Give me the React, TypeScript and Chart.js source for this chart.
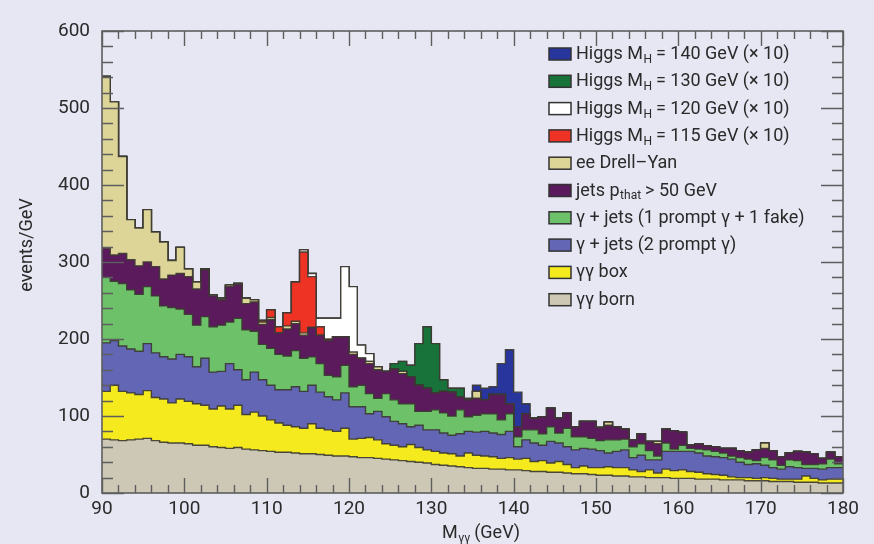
import React, { useEffect, useRef } from "react";
import { Chart, registerables } from "chart.js";

Chart.register(...registerables);

// ---------------- axes / binning ----------------
const X_MIN = 90;
const X_MAX = 180;
const BIN_WIDTH = 1;
const Y_MIN = 0;
const Y_MAX = 600;
const X_MAJOR = 10;
const X_MINOR = 2;
const Y_MAJOR = 100;
const Y_MINOR = 20;

// ---------------- series: events/GeV in 1 GeV bins starting at 90 GeV ----------------
const ggBorn = [
  70, 69, 68, 69, 70, 71, 68, 66, 65, 65,
  64, 62, 62, 60, 59, 58, 59, 57, 56, 55,
  54, 53, 53, 52, 51, 51, 50, 49, 48, 48,
  47, 46, 46, 45, 44, 43, 42, 41, 40, 39,
  37, 36, 35, 34, 33, 32, 32, 31, 31, 30,
  30, 29, 28, 28, 27, 27, 26, 25, 25, 24,
  23, 23, 22, 22, 21, 21, 20, 20, 20, 19,
  19, 19, 18, 18, 18, 17, 17, 17, 16, 16,
  16, 15, 15, 15, 14, 14, 14, 13, 13, 13,
];
const ggBox = [
  62, 71, 64, 61, 58, 62, 56, 56, 52, 57,
  55, 54, 52, 49, 54, 51, 55, 45, 49, 45,
  41, 38, 35, 34, 33, 39, 34, 33, 32, 36,
  23, 25, 26, 24, 20, 19, 18, 22, 19, 17,
  17, 16, 16, 14, 19, 17, 16, 16, 14, 16,
  14, 16, 13, 14, 12, 14, 11, 8, 10, 9,
  10, 11, 11, 11, 9, 7, 10, 6, 11, 10,
  11, 9, 9, 7, 6, 6, 4, 3, 4, 3,
  4, 4, 3, 3, 4, 8, 5, 4, 5, 5,
];
const gjTwoPrompt = [
  63, 58, 59, 57, 56, 61, 58, 55, 57, 58,
  58, 48, 61, 48, 45, 59, 46, 45, 52, 47,
  45, 43, 46, 52, 48, 50, 47, 43, 41, 46,
  42, 41, 31, 37, 35, 31, 30, 23, 29, 26,
  28, 26, 24, 29, 28, 30, 32, 31, 31, 34,
  16, 24, 24, 20, 28, 24, 23, 23, 23, 24,
  22, 18, 21, 23, 16, 21, 13, 17, 23, 25,
  24, 26, 25, 23, 23, 23, 23, 20, 17, 19,
  16, 14, 13, 16, 15, 10, 13, 14, 15, 15,
];
const gjOneFake = [
  85, 77, 81, 77, 74, 74, 74, 66, 67, 59,
  55, 54, 54, 59, 60, 54, 67, 65, 53, 46,
  48, 46, 44, 47, 43, 37, 37, 28, 30, 36,
  26, 28, 26, 17, 30, 28, 26, 30, 18, 24,
  26, 26, 25, 31, 19, 22, 23, 25, 19, 23,
  13, 13, 17, 15, 19, 13, 24, 17, 15, 14,
  13, 17, 15, 14, 14, 15, 12, 5, 11, 3,
  8, 4, 5, 8, 7, 6, 4, 6, 7, 4,
  10, 10, 5, 9, 9, 5, 5, 7, 11, 5,
];
const jetsPthat = [
  38, 34, 39, 39, 37, 32, 38, 35, 42, 46,
  49, 47, 61, 40, 33, 46, 44, 34, 38, 26,
  37, 28, 35, 35, 30, 38, 37, 45, 52, 37,
  42, 35, 39, 37, 29, 40, 39, 35, 34, 30,
  22, 28, 31, 17, 22, 22, 18, 25, 33, 13,
  13, 21, 15, 22, 24, 19, 20, 13, 20, 22,
  17, 19, 17, 13, 9, 13, 12, 16, 18, 24,
  17, 4, 7, 5, 6, 6, 10, 9, 9, 14,
  12, 12, 11, 9, 12, 16, 14, 7, 9, 9,
];
const drellYan = [
  223, 199, 126, 52, 49, 68, 45, 48, 19, 34,
  10, 9, 1, 1, 2, 2, 1, 7, 3, 3,
  3, 0, 4, 3, 3, 0, 0, 0, 0, 0,
  3, 0, 3, 4, 0, 0, 3, 0, 0, 0,
  0, 0, 0, 0, 0, 9, 0, 0, 0, 0,
  0, 0, 0, 0, 0, 0, 0, 0, 0, 0,
  0, 4, 0, 0, 0, 0, 0, 3, 0, 0,
  0, 0, 0, 0, 0, 0, 0, 0, 0, 0,
  7, 0, 0, 0, 0, 0, 0, 0, 0, 0,
];
// Higgs signals (x10), given from their first non-empty bin
const higgs115Start = 109;
const higgs115 = [2, 10, 8, 17, 51, 105, 66, 11, 2];
const higgs120Start = 114;
const higgs120 = [3, 4, 11, 27, 24, 91, 85, 17, 10];
const higgs130Start = 125;
const higgs130 = [7, 13, 15, 54, 80, 64, 15, 5, 11];
const higgs140Start = 134;
const higgs140 = [2, 8, 15, 10, 40, 70, 45, 13];

// ---------------- labels / colours ----------------
const seriesLabels = [
  "γγ born",
  "γγ box",
  "γ + jets (2 prompt γ)",
  "γ + jets (1 prompt γ + 1 fake)",
  "jets pthat > 50 GeV",
  "ee Drell–Yan",
  "Higgs MH = 115 GeV (× 10)",
  "Higgs MH = 120 GeV (× 10)",
  "Higgs MH = 130 GeV (× 10)",
  "Higgs MH = 140 GeV (× 10)",
];
const seriesColors = [
  "#cdc8b5",
  "#f5ea1d",
  "#6366b4",
  "#6dc168",
  "#5b1a5c",
  "#ddd598",
  "#ee3325",
  "#ffffff",
  "#17733a",
  "#27359c",
];
type Part = string | { sub: string };
// legend rows, top to bottom (index into series)
const legendRows: { series: number; parts: Part[] }[] = [
  { series: 9, parts: ["Higgs M", { sub: "H" }, " = 140 GeV (× 10)"] },
  { series: 8, parts: ["Higgs M", { sub: "H" }, " = 130 GeV (× 10)"] },
  { series: 7, parts: ["Higgs M", { sub: "H" }, " = 120 GeV (× 10)"] },
  { series: 6, parts: ["Higgs M", { sub: "H" }, " = 115 GeV (× 10)"] },
  { series: 5, parts: ["ee Drell–Yan"] },
  { series: 4, parts: ["jets p", { sub: "that" }, " > 50 GeV"] },
  { series: 3, parts: ["γ + jets (1 prompt γ + 1 fake)"] },
  { series: 2, parts: ["γ + jets (2 prompt γ)"] },
  { series: 1, parts: ["γγ box"] },
  { series: 0, parts: ["γγ born"] },
];
const xTitleParts: Part[] = ["M", { sub: "γγ" }, " (GeV)"];
const yTitle = "events/GeV";

const FONT = 'Roboto, "Liberation Sans", Arial, sans-serif';
const TEXT = "#2a2a2a";
const OUTLINE = "rgba(60,58,50,0.92)";
const AXIS = "#5e5e5e";
const BG = "#e6e7f3";

const N_BINS = (X_MAX - X_MIN) / BIN_WIDTH;

function padSignal(start: number, values: number[]): number[] {
  const out = new Array(N_BINS).fill(0);
  values.forEach((v, k) => {
    out[(start - X_MIN) / BIN_WIDTH + k] = v;
  });
  return out;
}

function toSteps(values: number[]) {
  const pts = values.map((v, i) => ({ x: X_MIN + i * BIN_WIDTH, y: v }));
  pts.push({ x: X_MAX, y: values[values.length - 1] });
  return pts;
}

function drawRich(ctx: CanvasRenderingContext2D, parts: Part[], x: number, y: number, size: number, center: boolean) {
  const subSize = Math.round(size * 0.68);
  const widths = parts.map((p) => {
    ctx.font = `${typeof p === "string" ? size : subSize}px ${FONT}`;
    return ctx.measureText(typeof p === "string" ? p : p.sub).width;
  });
  const total = widths.reduce((a, b) => a + b, 0);
  let cx = center ? x - total / 2 : x;
  ctx.textAlign = "left";
  ctx.textBaseline = "alphabetic";
  parts.forEach((p, i) => {
    if (typeof p === "string") {
      ctx.font = `${size}px ${FONT}`;
      ctx.fillText(p, cx, y);
    } else {
      ctx.font = `${subSize}px ${FONT}`;
      ctx.fillText(p.sub, cx + 0.5, y + size * 0.22);
    }
    cx += widths[i];
  });
}

const decorPlugin = {
  id: "decor",
  afterDatasetsDraw(chart: any) {
    const { ctx, chartArea: a, scales } = chart;
    const xs = scales.x;
    const ys = scales.y;
    ctx.save();
    // inward ticks on all four sides
    ctx.strokeStyle = AXIS;
    ctx.lineWidth = 1.4;
    ctx.beginPath();
    for (let v = X_MIN; v <= X_MAX; v += X_MINOR) {
      const px = Math.round(xs.getPixelForValue(v)) + 0.5;
      const len = v % X_MAJOR === 0 ? 15 : 8;
      ctx.moveTo(px, a.bottom);
      ctx.lineTo(px, a.bottom - len);
      ctx.moveTo(px, a.top);
      ctx.lineTo(px, a.top + len);
    }
    for (let v = Y_MIN; v <= Y_MAX; v += Y_MINOR) {
      const py = Math.round(ys.getPixelForValue(v)) + 0.5;
      const len = v % Y_MAJOR === 0 ? 22 : 11;
      ctx.moveTo(a.left, py);
      ctx.lineTo(a.left + len, py);
      ctx.moveTo(a.right, py);
      ctx.lineTo(a.right - len, py);
    }
    ctx.stroke();
    ctx.lineWidth = 1.6;
    ctx.strokeRect(a.left, a.top, a.right - a.left, a.bottom - a.top);

    // legend
    const boxX = 549;
    const textX = 576;
    const base0 = 59;
    const step = 27.3;
    legendRows.forEach((row, i) => {
      const by = base0 + i * step;
      ctx.fillStyle = seriesColors[row.series];
      ctx.fillRect(boxX, by - 11, 22, 12);
      ctx.strokeStyle = "#333";
      ctx.lineWidth = 1.5;
      ctx.strokeRect(boxX, by - 11, 22, 12);
      ctx.fillStyle = TEXT;
      drawRich(ctx, row.parts, textX, by, 18, false);
    });

    // axis titles
    ctx.fillStyle = TEXT;
    drawRich(ctx, xTitleParts, 481, 538, 18, true);
    ctx.translate(27, 245);
    ctx.rotate(-Math.PI / 2);
    ctx.font = `18px ${FONT}`;
    ctx.textAlign = "center";
    ctx.textBaseline = "middle";
    ctx.fillText(yTitle, 0, 0);
    ctx.restore();
  },
};

export default function App() {
  const canvasRef = useRef<HTMLCanvasElement | null>(null);

  useEffect(() => {
    if (!canvasRef.current) return;
    const layers = [
      ggBorn,
      ggBox,
      gjTwoPrompt,
      gjOneFake,
      jetsPthat,
      drellYan,
      padSignal(higgs115Start, higgs115),
      padSignal(higgs120Start, higgs120),
      padSignal(higgs130Start, higgs130),
      padSignal(higgs140Start, higgs140),
    ];
    const chart = new Chart(canvasRef.current, {
      type: "line",
      data: {
        datasets: layers.map((vals, i) => ({
          label: seriesLabels[i],
          data: toSteps(vals),
          stepped: true,
          fill: "origin",
          backgroundColor: seriesColors[i],
          borderColor: OUTLINE,
          borderWidth: 1.4,
          pointRadius: 0,
          tension: 0,
        })),
      },
      options: {
        animation: false,
        responsive: false,
        events: [],
        layout: { padding: { left: 0, top: 31, right: 31, bottom: 0 } },
        plugins: {
          legend: { display: false },
          tooltip: { enabled: false },
        },
        scales: {
          x: {
            type: "linear",
            min: X_MIN,
            max: X_MAX,
            grid: { display: false, drawTicks: false },
            border: { display: false },
            ticks: {
              stepSize: X_MAJOR,
              padding: 5,
              color: TEXT,
              font: { size: 19, family: FONT },
              maxRotation: 0,
              autoSkip: false,
            },
            afterFit: (s: any) => {
              s.height = 51;
            },
          },
          y: {
            type: "linear",
            stacked: true,
            min: Y_MIN,
            max: Y_MAX,
            grid: { display: false, drawTicks: false },
            border: { display: false },
            ticks: {
              stepSize: Y_MAJOR,
              padding: 12,
              color: TEXT,
              font: { size: 19, family: FONT },
            },
            afterFit: (s: any) => {
              s.width = 102;
            },
          },
        },
      } as any,
      plugins: [decorPlugin],
    });
    return () => chart.destroy();
  }, []);

  return (
    <div
      style={{
        position: "absolute",
        left: 0,
        top: 0,
        width: 874,
        height: 544,
        background: BG,
      }}
    >
      <canvas ref={canvasRef} width={874} height={544} style={{ display: "block" }} />
    </div>
  );
}
